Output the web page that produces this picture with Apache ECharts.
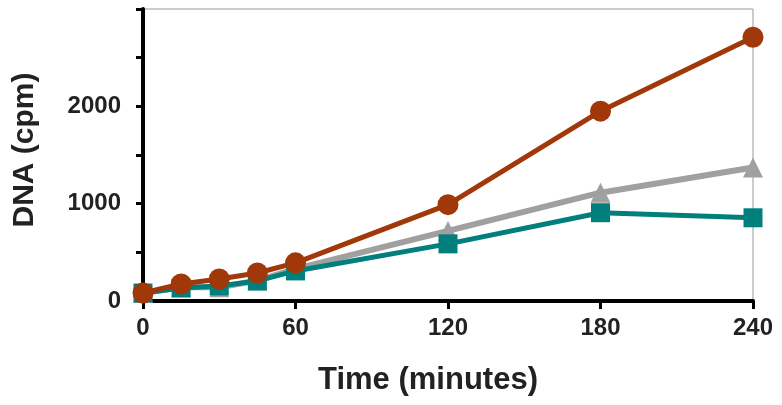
<!DOCTYPE html>
<html>
<head>
<meta charset="utf-8">
<script src="https://cdn.jsdelivr.net/npm/echarts@6/dist/echarts.min.js"></script>
<style>
  html, body { margin: 0; padding: 0; background: #fff; }
  #chart { width: 782px; height: 405px; }
</style>
</head>
<body>
<div id="chart"></div>
<script>
// time points (minutes)
const times = [0, 15, 30, 45, 60, 120, 180, 240];

// DNA (cpm) per series
const brownValues = [82, 175, 226, 288, 392, 990, 1950, 2710];
const grayValues = [82, 140, 140, 210, 330, 720, 1113, 1371];
const tealValues = [82, 134, 155, 206, 309, 587, 907, 855];

const yLabelsShown = [0, 1000, 2000];

const pair = vals => times.map((t, i) => [t, vals[i]]);

const chart = echarts.init(document.getElementById('chart'));

const axisFont = {
    fontFamily: 'Liberation Sans, Arial, sans-serif',
    fontWeight: 'bold',
    color: '#222'
};

const option = {
    animation: false,
    grid: {
        left: 143,
        right: 29,
        top: 9,
        bottom: 104,
        show: true,
        borderColor: '#999',
        borderWidth: 1
    },
    xAxis: {
        type: 'value',
        min: 0,
        max: 240,
        interval: 60,
        name: 'Time (minutes)',
        nameLocation: 'middle',
        nameGap: 64,
        // title sits a little left of the plot centre in the original
        nameTextStyle: {...axisFont, fontSize: 31, padding: [0, 40, 0, 0]},
        axisLine: { show: true, lineStyle: { color: '#000', width: 4 } },
        axisTick: { show: true, inside: false, length: 8, lineStyle: { color: '#000', width: 3 } },
        axisLabel: {...axisFont, fontSize: 24, margin: 15},
        splitLine: { show: false }
    },
    yAxis: {
        type: 'value',
        min: 0,
        max: 3000,
        interval: 500,
        name: 'DNA (cpm)',
        nameLocation: 'middle',
        nameGap: 103,
        nameRotate: 90,
        nameTextStyle: {...axisFont, fontSize: 30, padding: [0, 0, 0, 10]},
        axisLine: { show: true, lineStyle: { color: '#000', width: 4 } },
        axisTick: { show: true, inside: false, length: 7, lineStyle: { color: '#000', width: 3 } },
        axisLabel: {
            ...axisFont,
            fontSize: 24,
            margin: 22,
            formatter: v => yLabelsShown.includes(v) ? String(v) : ''
        },
        splitLine: { show: false }
    },
    series: [
        {
            type: 'line',
            data: pair(grayValues),
            symbol: 'triangle',
            symbolSize: 20,
            lineStyle: { color: '#a0a0a0', width: 6 },
            itemStyle: { color: '#a0a0a0' },
            z: 2
        },
        {
            type: 'line',
            data: pair(tealValues),
            symbol: 'rect',
            symbolSize: 19,
            lineStyle: { color: '#007f7d', width: 5 },
            itemStyle: { color: '#007f7d' },
            z: 3
        },
        {
            type: 'line',
            data: pair(brownValues),
            symbol: 'circle',
            symbolSize: 21,
            lineStyle: { color: '#a0380a', width: 5 },
            itemStyle: { color: '#a0380a' },
            z: 4
        }
    ]
};

chart.setOption(option);
</script>
</body>
</html>
